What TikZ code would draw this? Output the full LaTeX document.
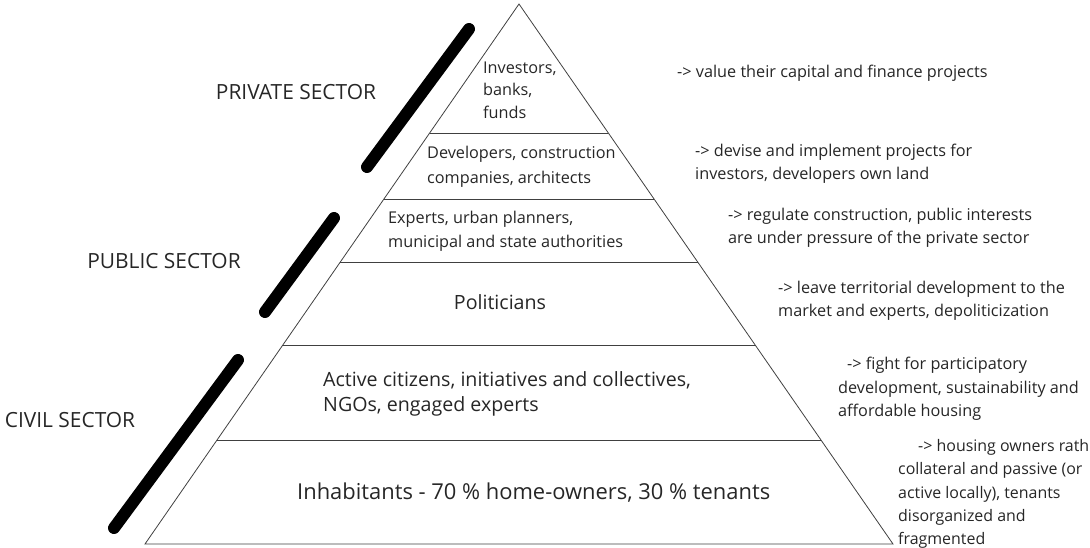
\documentclass[tikz,border=0pt]{standalone}
\usepackage{fontspec}
\setmainfont{Open Sans}
\usetikzlibrary{calc}

\definecolor{ink}{HTML}{262626}

\tikzset{
    layer/.style={draw=black!75, line width=0.8bp},
    sectorbar/.style={line width=12bp, line cap=round},
    sectorname/.style={font=\fontsize{21}{25}\selectfont, text=ink, inner sep=0pt},
    inside/.style={font=\fontsize{16.3}{24}\selectfont, text=ink, align=left, anchor=west, inner sep=0pt},
    bigger/.style={font=\fontsize{19.7}{25}\selectfont},
    role/.style={font=\fontsize{16.3}{23.5}\selectfont, text=ink, align=left, anchor=west, inner sep=0pt}
}

\begin{document}
\begin{tikzpicture}[x=1bp, y=-1bp]
    \useasboundingbox (0,0) rectangle (1090,548);

    % Pyramide
    \coordinate (top) at (519,4);
    \coordinate (bl) at (145,544);
    \coordinate (br) at (893,544);
    \draw[layer] (bl) -- (top) -- (br) -- cycle;

    % Separations between the layers
    \foreach \t [count=\i] in {0.2389,0.3611,0.4778,0.6315,0.8074}{
        \coordinate (l\i) at ($(top)!\t!(bl)$);
        \coordinate (r\i) at ($(top)!\t!(br)$);
        \draw[layer] (l\i) -- (r\i);
    }

    % Sector bars
    \coordinate (pa) at (469,29);  \coordinate (pb) at (367,167);
    \coordinate (qa) at (334,218); \coordinate (qb) at (265,312);
    \coordinate (ca) at (238,360); \coordinate (cb) at (114,528);
    \draw[sectorbar] (pa) -- (pb);
    \draw[sectorbar] (qa) -- (qb);
    \draw[sectorbar] (ca) -- (cb);

    % Sector names
    \node[sectorname] (private) at (296,92) {PRIVATE SECTOR};
    \node[sectorname] (public) at (164,261) {PUBLIC SECTOR};
    \node[sectorname] (civil) at (70,420) {CIVIL SECTOR};

    % Actors in the layers
    \node[inside, font=\fontsize{16.3}{22.5}\selectfont] (investors) at (483,90) {Investors,\\banks,\\funds};
    \node[inside, font=\fontsize{16.3}{25}\selectfont] (developers) at (427,167) {Developers, construction\\companies, architects};
    \node[inside] (experts) at (388,231) {Experts, urban planners,\\municipal and state authorities};
    \node[inside, bigger, anchor=center] (politicians) at (500,302) {Politicians};
    \node[inside, bigger] (active) at (323,394) {Active citizens, initiatives and collectives,\\NGOs, engaged experts};
    \node[inside, font=\fontsize{22}{26}\selectfont] (inhabitants) at (297,493) {Inhabitants - 70 \% home-owners, 30 \% tenants};

    % Roles
    \node[role] (rolea) at (677,73) {-> value their capital and finance projects};
    \node[role] (roleb) at (695,164) {-> devise and implement projects for\\investors, developers own land};
    \node[role] (rolec) at (728,228) {-> regulate construction, public interests\\are under pressure of the private sector};
    \node[role] (roled) at (778,301) {-> leave territorial development to the\\market and experts, depoliticization};
    \node[role] (rolee) at (838,389) {\hspace{9bp}-> fight for participatory\\development, sustainability and\\affordable housing};
    \node[role, font=\fontsize{16}{23.5}\selectfont] (rolef) at (898,494) {\hspace{20bp}-> housing owners rather\\collateral and passive (or\\active locally), tenants\\disorganized and\\fragmented};
\end{tikzpicture}
\end{document}
